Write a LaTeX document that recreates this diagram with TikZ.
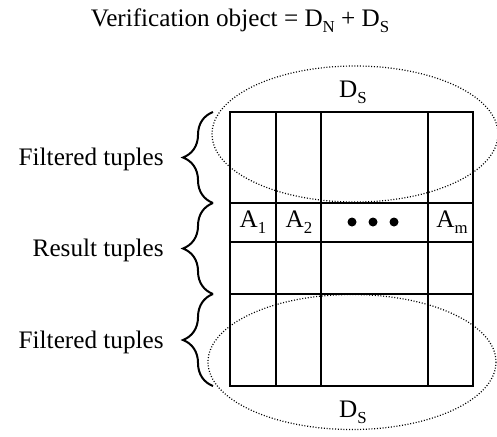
\documentclass[tikz,border=0pt]{standalone}
\usepackage{fontspec}
\setmainfont{Liberation Serif}
\usetikzlibrary{decorations.pathreplacing}
\newcommand\lowsub[1]{\raisebox{-0.24em}{\fontsize{8.4}{10}\selectfont #1}}

\begin{document}
\begin{tikzpicture}[x=0.5pt,y=-0.5pt,
  grid/.style={line width=1pt},
  dsline/.style={line width=0.6pt,dash pattern=on 0.5pt off 0.9pt},
  brc/.style={line width=1pt,decorate,decoration={brace,amplitude=15pt}},
  lbl/.style={font=\fontsize{12.6}{15}\selectfont,inner sep=0pt}]
  \useasboundingbox (0,0) rectangle (497,436);
  % Title
  \node[lbl,anchor=base] (title) at (240,26)
     {Verification object = D\lowsub{N} + D\lowsub{S}};
  % Table
  \draw[grid] (230,112) rectangle (473,386);
  \foreach \x in {275.5,321,428} \draw[grid] (\x,112) -- (\x,386);
  \foreach \y in {203,242,294} \draw[grid] (230,\y) -- (473,\y);
  \node[lbl,anchor=base] (a1) at (253,227) {A\lowsub{1}};
  \node[lbl,anchor=base] (a2) at (299,227) {A\lowsub{2}};
  \node[lbl,anchor=base] (am) at (452,227) {A\lowsub{m}};
  \foreach \x in {352,373,394} \fill (\x,222) circle (4.5);
  % Signature regions
  \draw[dsline] (355,134) ellipse [x radius=143, y radius=68];
  \draw[dsline] (352,362) ellipse [x radius=144, y radius=67.5];
  \node[lbl,anchor=base] (dstop) at (353,97) {D\lowsub{S}};
  \node[lbl,anchor=base] (dsbot) at (353,417) {D\lowsub{S}};
  % Braces
  \coordinate (b0) at (213,112);
  \coordinate (b1) at (213,203);
  \coordinate (b2) at (213,294);
  \coordinate (b3) at (213,386);
  \draw[brc] (b1) -- (b0);
  \draw[brc] (b2) -- (b1);
  \draw[brc] (b3) -- (b2);
  \node[lbl,anchor=base east] (filt1) at (164,165) {Filtered tuples};
  \node[lbl,anchor=base east] (res) at (164,256) {Result tuples};
  \node[lbl,anchor=base east] (filt2) at (164,348) {Filtered tuples};
\end{tikzpicture}
\end{document}
